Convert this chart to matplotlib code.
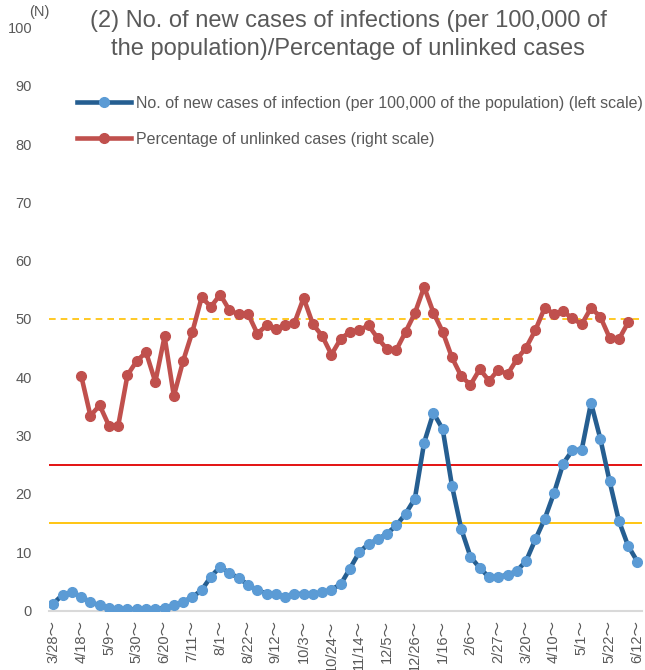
import matplotlib
matplotlib.use("Agg")
import matplotlib.pyplot as plt
import numpy as np

plt.rcParams['font.family'] = ['Liberation Sans', 'Noto Sans CJK JP', 'DejaVu Sans']

week_labels = ["3/28～", "4/18～", "5/9～", "5/30～", "6/20～", "7/11～", "8/1～", "8/22～",
               "9/12～", "10/3～", "10/24～", "11/14～", "12/5～", "12/26～", "1/16～", "2/6～",
               "2/27～", "3/20～", "4/10～", "5/1～", "5/22～", "6/12～"]

new_cases = [1.2, 2.7, 3.1, 2.4, 1.4, 0.9, 0.5, 0.2, 0.2, 0.2, 0.2, 0.3, 0.4, 0.9, 1.5, 2.3,
             3.5, 5.8, 7.5, 6.4, 5.6, 4.4, 3.5, 2.9, 2.8, 2.4, 2.9, 2.8, 2.9, 3.1, 3.6, 4.5,
             7.2, 10.0, 11.4, 12.2, 13.2, 14.6, 16.6, 19.2, 28.8, 33.9, 31.1, 21.4, 14.0, 9.2,
             7.3, 5.7, 5.8, 6.1, 6.8, 8.5, 12.2, 15.7, 20.1, 25.2, 27.5, 27.6, 35.6, 29.5,
             22.2, 15.4, 11.1, 8.4]

unlinked_pct = [None, None, None, 40.3, 33.4, 35.2, 31.7, 31.7, 40.4, 42.8, 44.3, 39.2, 47.0,
                36.8, 42.8, 47.8, 53.7, 52.1, 54.2, 51.5, 50.8, 50.9, 47.5, 48.9, 48.2, 49.0,
                49.3, 53.6, 49.1, 47.1, 43.9, 46.6, 47.8, 48.1, 48.9, 46.7, 44.8, 44.7, 47.8,
                51.0, 55.5, 51.1, 47.8, 43.4, 40.2, 38.7, 41.4, 39.4, 41.3, 40.5, 43.1, 45.1,
                48.1, 51.9, 50.9, 51.3, 50.1, 49.1, 51.9, 50.4, 46.8, 46.5, 49.4, None]

ref_unlinked = 50
ref_stage4 = 25
ref_stage3 = 15

title_line1 = "(2) No. of new cases of infections (per 100,000 of"
title_line2 = "the population)/Percentage of unlinked cases"
label_cases = "No. of new cases of infection (per 100,000 of the population) (left scale)"
label_unlinked = "Percentage of unlinked cases (right scale)"

W, H = 645, 670
fig = plt.figure(figsize=(W / 100, H / 100), dpi=100)
ax = fig.add_axes([48.7 / W, 59.5 / H, (642 - 48.7) / W, (610.5 - 27.5) / H])

x = np.arange(len(new_cases))
pct = np.array([np.nan if v is None else v for v in unlinked_pct], dtype=float)

ax.axhline(ref_unlinked, color="#FFC000", lw=1.2, ls=(0, (4, 3)), zorder=1)
ax.axhline(ref_stage4, color="#E00000", lw=1.3, zorder=1)
ax.axhline(ref_stage3, color="#FFC000", lw=1.3, zorder=1)

l1, = ax.plot(x, new_cases, color="#255E91", lw=3.3, marker="o", ms=7,
              mfc="#5B9BD5", mec="#5B9BD5", zorder=3, label=label_cases)
l2, = ax.plot(x, pct, color="#C0504D", lw=3.3, marker="o", ms=7,
              mfc="#C0504D", mec="#C0504D", zorder=3, label=label_unlinked)

ax.set_xlim(-0.5, len(new_cases) - 0.5)
ax.set_ylim(0, 100)
ax.set_yticks(np.arange(0, 101, 10))
ax.set_yticklabels([str(v) for v in range(0, 101, 10)])
ax.set_xticks(np.arange(0, len(new_cases), 3))
ax.set_xticklabels(week_labels, rotation=90, va="top", ha="center")
ax.tick_params(axis="y", length=0, pad=12, labelsize=10.5, labelcolor="#595959")
ax.tick_params(axis="x", length=0, pad=7, labelsize=10.5, labelcolor="#595959")
for s in ["left", "right", "top"]:
    ax.spines[s].set_visible(False)
ax.spines["bottom"].set_color("#D9D9D9")
ax.spines["bottom"].set_linewidth(1.5)
ax.spines["bottom"].set_zorder(0)

fig.text(348.5 / W, 1 - 27 / H, title_line1, ha="center", va="baseline", fontsize=17,
         color="#595959")
fig.text(348 / W, 1 - 55 / H, title_line2, ha="center", va="baseline", fontsize=17,
         color="#595959")
fig.text(29 / W, 1 - 5 / H, "(N)", ha="left", va="top", fontsize=10.5, color="#595959")

leg = fig.legend(handles=[l1, l2], loc="upper left", bbox_to_anchor=(77 / W, 1 - 96 / H),
                 frameon=False, fontsize=11.5, handlelength=3.4, handletextpad=0.3,
                 labelspacing=1.3, borderaxespad=0, borderpad=0)
for t in leg.get_texts():
    t.set_color("#595959")

fig.savefig("out.png", dpi=100)
